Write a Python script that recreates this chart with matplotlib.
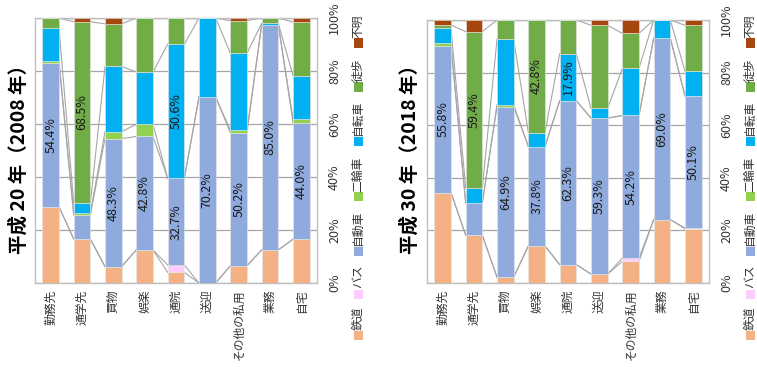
import matplotlib
matplotlib.use("Agg")
import matplotlib.pyplot as plt
from matplotlib.patches import Rectangle

plt.rcParams['font.family'] = ['Noto Sans CJK JP', 'DejaVu Sans']

categories = ["勤務先", "通学先", "買物", "娯楽", "通院", "送迎", "その他の私用", "業務", "自宅"]
modes = ["鉄道", "バス", "自動車", "二輪車", "自転車", "徒歩", "不明"]
colors = ["#F4B183", "#FFCCFF", "#8FAADC", "#92D050", "#00B0F0", "#70AD47", "#A5470F"]

# 平成20年（2008年） 目的別の交通手段構成比 (%)
h20_rail = [28.8, 16.6, 6.2, 12.5, 4.0, 0.0, 6.5, 12.5, 16.5]
h20_bus = [0.0, 0.0, 0.0, 0.0, 2.8, 0.0, 0.0, 0.0, 0.0]
h20_car = [54.4, 9.1, 48.3, 42.8, 32.7, 70.2, 50.2, 85.0, 44.0]
h20_moto = [0.7, 0.6, 2.6, 4.6, 0.0, 0.0, 1.0, 0.0, 1.4]
h20_bike = [12.4, 3.8, 24.6, 19.7, 50.6, 29.8, 29.0, 0.5, 16.3]
h20_walk = [3.7, 68.5, 16.1, 20.4, 9.9, 0.0, 12.3, 2.0, 20.3]
h20_unk = [0.0, 1.4, 2.2, 0.0, 0.0, 0.0, 1.0, 0.0, 1.5]

# 平成30年（2018年）
h30_rail = [34.4, 18.2, 2.2, 14.1, 7.0, 3.4, 8.2, 24.1, 20.6]
h30_bus = [0.0, 0.0, 0.0, 0.0, 0.0, 0.0, 1.3, 0.0, 0.3]
h30_car = [55.8, 12.2, 64.9, 37.8, 62.3, 59.3, 54.2, 69.0, 50.1]
h30_moto = [1.2, 0.0, 0.7, 0.0, 0.0, 0.0, 0.0, 0.0, 0.2]
h30_bike = [5.4, 5.8, 24.9, 5.3, 17.9, 3.7, 17.9, 6.9, 9.3]
h30_walk = [1.3, 59.4, 7.3, 42.8, 12.8, 31.6, 13.3, 0.0, 17.5]
h30_unk = [1.9, 4.4, 0.0, 0.0, 0.0, 2.0, 5.1, 0.0, 2.0]

# (目的, 交通手段) の組で数値ラベルを付ける
h20_labels = [("勤務先", "自動車"), ("通学先", "徒歩"), ("買物", "自動車"), ("娯楽", "自動車"),
              ("通院", "自動車"), ("通院", "自転車"), ("送迎", "自動車"), ("その他の私用", "自動車"),
              ("業務", "自動車"), ("自宅", "自動車")]
h30_labels = [("勤務先", "自動車"), ("通学先", "徒歩"), ("買物", "自動車"), ("娯楽", "自動車"),
              ("娯楽", "徒歩"), ("通院", "自動車"), ("通院", "自転車"), ("送迎", "自動車"),
              ("その他の私用", "自動車"), ("業務", "自動車"), ("自宅", "自動車")]

W, H = 757, 367
fig = plt.figure(figsize=(W / 100, H / 100), dpi=100)

BAR_W = 0.53


def draw_panel(ax, series, labels, title, title_x, legend_x):
    n = len(categories)
    x = list(range(n))
    bottoms = [0.0] * n
    tops = []
    for vals, col in zip(series, colors):
        ax.bar(x, vals, BAR_W, bottom=bottoms, color=col, edgecolor="#E8E8E8",
               linewidth=0.4, zorder=3)
        bottoms = [b + v for b, v in zip(bottoms, vals)]
        tops.append(bottoms)

    # 系列線
    for cum in tops:
        for i in range(n - 1):
            ax.plot([i + BAR_W / 2, i + 1 - BAR_W / 2], [cum[i], cum[i + 1]],
                    color="#A6A6A6", lw=0.8, zorder=2)

    for cat, mode in labels:
        i = categories.index(cat)
        k = modes.index(mode)
        v = series[k][i]
        y0 = tops[k][i] - v
        ax.text(i, y0 + v / 2, f"{v:.1f}%", rotation=90, ha="center", va="center",
                fontsize=9, color="#1A1A1A", zorder=4)

    ax.set_xlim(-0.5, n - 0.5)
    ax.set_ylim(0, 100)
    ax.set_yticks([0, 20, 40, 60, 80, 100])
    ax.set_yticklabels([f"{t}%" for t in range(0, 101, 20)], rotation=90,
                       va="center", fontsize=9, color="#333333")
    ax.yaxis.tick_right()
    ax.tick_params(axis="y", length=0, pad=8)
    ax.set_xticks(x)
    ax.set_xticklabels(categories, rotation=90, va="top", ha="center",
                       fontsize=8.5, color="#333333")
    ax.tick_params(axis="x", length=0, pad=5)
    ax.grid(axis="y", color="#A6A6A6", lw=0.9, zorder=0)
    ax.set_axisbelow(True)
    for s in ax.spines.values():
        s.set_color("#BFBFBF")
        s.set_linewidth(1.0)

    fig.text(title_x / W, 1 - 154 / H, title, rotation=90, ha="center", va="center",
             fontsize=14, fontweight="bold")

    # 凡例（縦書き）
    sq = 9
    for name, col, yc in zip(modes, colors, [335, 294, 251, 197, 142, 87, 43]):
        fig.patches.append(Rectangle(((legend_x - sq / 2) / W, 1 - (yc + sq / 2) / H),
                                     sq / W, sq / H, transform=fig.transFigure,
                                     facecolor=col, edgecolor="none"))
        fig.text(legend_x / W, 1 - (yc - sq / 2 - 1) / H, name, rotation=90,
                 ha="center", va="bottom", fontsize=8.5, color="#333333")


ax1 = fig.add_axes([35 / W, 1 - 283 / H, 282 / W, 265 / H])
draw_panel(ax1, [h20_rail, h20_bus, h20_car, h20_moto, h20_bike, h20_walk, h20_unk],
           h20_labels, "平成 20 年（2008 年）", 19, 358)

ax2 = fig.add_axes([427 / W, 1 - 283 / H, 282 / W, 263 / H])
draw_panel(ax2, [h30_rail, h30_bus, h30_car, h30_moto, h30_bike, h30_walk, h30_unk],
           h30_labels, "平成 30 年（2018 年）", 410, 750)

fig.savefig("out.png", dpi=100)
